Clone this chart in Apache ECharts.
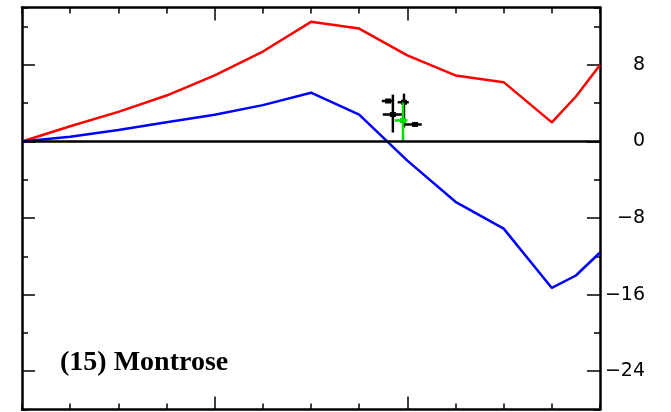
<!DOCTYPE html>
<html><head><meta charset="utf-8">
<script src="https://cdn.jsdelivr.net/npm/echarts@6/dist/echarts.min.js"></script>
<style>html,body{margin:0;padding:0;background:#fff}#c{width:671px;height:412px}</style>
</head><body><div id="c"></div>
<script>
// ---- data ----
const xPos = [0, 1, 2, 3, 4, 5, 6, 7, 8, 9, 10, 11, 11.5, 12];
const redVals = [0, 1.6, 3.1, 4.8, 6.9, 9.4, 12.5, 11.8, 9.0, 6.9, 6.2, 2.0, 4.7, 8.0];
const blueVals = [0, 0.5, 1.2, 2.0, 2.8, 3.8, 5.1, 2.8, -2.0, -6.3, -9.1, -15.3, -14.0, -11.6];
const yTickLabels = [-24, -16, -8, 0, 8];
const xMajorTicks = [4, 8];
const yMajorTicks = [-24, -16, -8, 0, 8];
// observations with error bars
const obsX   = [7.60, 7.70, 7.93, 7.91, 8.16];
const obsY   = [4.23, 2.82, 4.10, 2.20, 1.78];
const obsXlo = [7.47, 7.49, 7.80, 7.74, 7.95];
const obsXhi = [7.72, 7.93, 8.03, 8.00, 8.30];
const obsYlo = [4.23, 0.94, 1.46, 0.00, 1.78];
const obsYhi = [4.23, 4.90, 5.00, 4.07, 1.78];
const obsGroup = ['obs', 'obs', 'obs', 'model', 'obs'];
const panelTitle = '(15) Montrose';

// ---- chart ----
const chart = echarts.init(document.getElementById('c'), null, {renderer: 'canvas'});
const tickStyle = {color: '#000', width: 1.5};
const lineAx = {show: true, onZero: false, lineStyle: {color: '#000', width: 2.5}};
const noLine = {show: false, onZero: false};
function xAx(pos, major) {
  return {
    type: 'value', min: 0, max: 12, interval: 1, position: pos,
    splitLine: {show: false}, axisLabel: {show: false},
    axisLine: major ? noLine : lineAx,
    axisTick: major ? {inside: true, length: 13, customValues: xMajorTicks, lineStyle: tickStyle}
                    : {inside: true, length: 6, lineStyle: tickStyle}
  };
}
function yAx(pos, major, labels) {
  return {
    type: 'value', min: -28, max: 14, interval: 4, position: pos,
    splitLine: {show: false},
    axisLabel: labels ? {
      show: true, customValues: yTickLabels, align: 'right', margin: 45,
      fontFamily: 'DejaVu Sans', fontSize: 19, color: '#000',
      formatter: v => (v < 0 ? '\u2212' + Math.abs(v) : String(v))
    } : {show: false},
    axisLine: major ? noLine : lineAx,
    axisTick: major ? {inside: true, length: 13, customValues: yMajorTicks, lineStyle: tickStyle}
                    : {inside: true, length: 6, lineStyle: tickStyle}
  };
}

const obsData = obsX.map((x, i) => [x, obsY[i], obsXlo[i], obsXhi[i], obsYlo[i], obsYhi[i], obsGroup[i] === 'model' ? 1 : 0]);

chart.setOption({
  animation: false,
  backgroundColor: '#fff',
  grid: {left: 22, right: 71, top: 7.5, bottom: 2.5, containLabel: false},
  xAxis: [xAx('bottom', false), xAx('bottom', true), xAx('top', false), xAx('top', true)],
  yAxis: [yAx('left', false), yAx('left', true), yAx('right', false), yAx('right', true, true)],
  graphic: [{
    type: 'text', left: 60, top: 349,
    style: {text: panelTitle, font: 'bold 28px "Liberation Serif", "Times New Roman", serif', fill: '#000'}
  }],
  series: [
    {
      type: 'line', data: [], z: 1, silent: true,
      markLine: {symbol: ['none', 'none'], silent: true, label: {show: false},
        lineStyle: {color: '#000', width: 2.5, type: 'solid'}, data: [{yAxis: 0}]}
    },
    {
      type: 'line', z: 2, data: xPos.map((x, i) => [x, redVals[i]]),
      symbol: 'none', lineStyle: {color: '#ff0000', width: 2.5}
    },
    {
      type: 'line', z: 2, data: xPos.map((x, i) => [x, blueVals[i]]),
      symbol: 'none', lineStyle: {color: '#0000ff', width: 2.5}
    },
    {
      type: 'custom', z: 3, data: obsData,
      encode: {x: 0, y: 1},
      renderItem: function (params, api) {
        const x = api.value(0), y = api.value(1);
        const c = api.coord([x, y]);
        const l = api.coord([api.value(2), y]);
        const r = api.coord([api.value(3), y]);
        const b = api.coord([x, api.value(4)]);
        const t = api.coord([x, api.value(5)]);
        const col = api.value(6) === 1 ? '#00dd00' : '#000';
        const st = {stroke: col, lineWidth: 2.5};
        const children = [
          {type: 'line', shape: {x1: l[0], y1: l[1], x2: r[0], y2: r[1]}, style: st}
        ];
        if (Math.abs(b[1] - t[1]) > 1) {
          children.push({type: 'line', shape: {x1: b[0], y1: b[1], x2: t[0], y2: t[1]}, style: st});
        }
        children.push({type: 'rect', shape: {x: c[0] - 3, y: c[1] - 2.5, width: 6, height: 5}, style: {fill: col}});
        return {type: 'group', children: children};
      }
    }
  ]
});
</script>
</body></html>
